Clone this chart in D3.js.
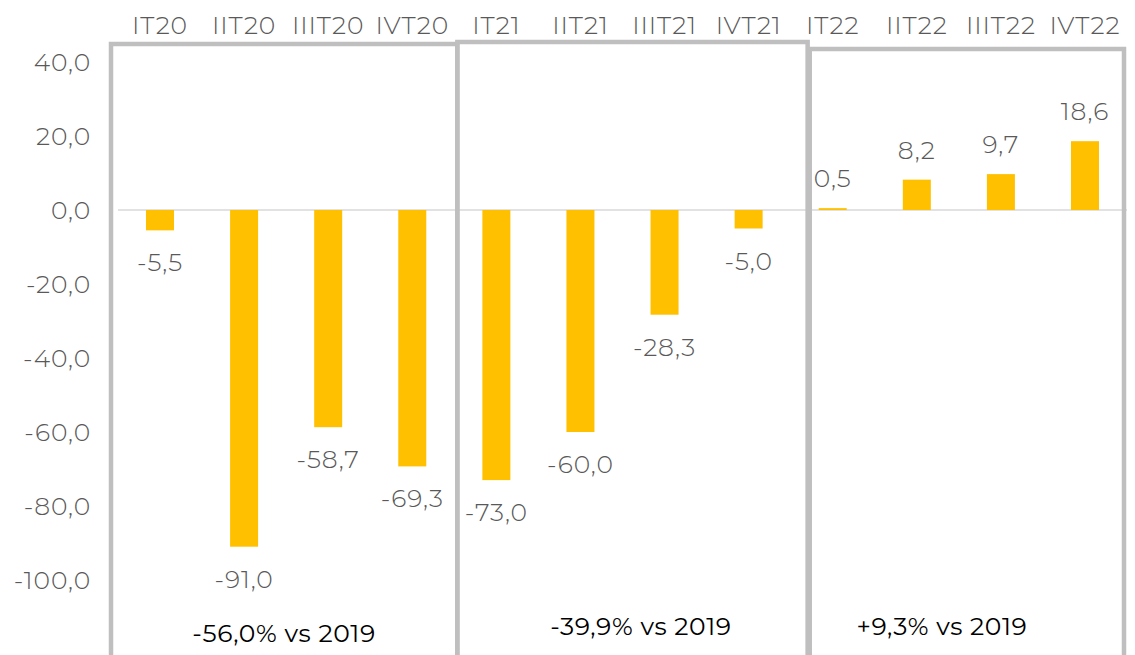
<!DOCTYPE html>
<html>
<head>
<meta charset="utf-8">
<script src="https://cdn.jsdelivr.net/npm/d3@7"></script>
<style>
  body { margin: 0; background: #fff; }
  text { font-family: "Montserrat", "Open Sans", "DejaVu Sans", sans-serif; font-weight: 300; letter-spacing: 0.9px; }
  text.note { font-weight: 400; letter-spacing: 0.6px; }
</style>
</head>
<body>
<div id="chart-area"></div>
<script>
// quarterly change vs 2019 (%)
var quarters = ["IT20", "IIT20", "IIIT20", "IVT20", "IT21", "IIT21", "IIIT21", "IVT21", "IT22", "IIT22", "IIIT22", "IVT22"];
var values = [-5.5, -91.0, -58.7, -69.3, -73.0, -60.0, -28.3, -5.0, 0.5, 8.2, 9.7, 18.6];
var yTicks = [40, 20, 0, -20, -40, -60, -80, -100];

var groupNotes = ["-56,0% vs 2019", "-39,9% vs 2019", "+9,3% vs 2019"];
var groupFirst = ["IT20", "IT21", "IT22"];
var groupLast = ["IVT20", "IVT21", "IVT22"];

var W = 1135, H = 655;

var svg = d3.select("#chart-area").append("svg")
    .attr("width", W)
    .attr("height", H);

var x = d3.scaleBand()
    .domain(quarters)
    .range([118, 1127])
    .paddingInner(0.667)
    .paddingOuter(0.333);

var y = d3.scaleLinear()
    .domain([-100, 40])
    .range([580, 62]);

var fmt = function(v) { return d3.format(".1f")(v).replace(".", ",").replace("−", "-"); };

// y axis labels (no line, no ticks)
var yAxisCall = d3.axisLeft(y)
    .tickValues(yTicks)
    .tickSize(0)
    .tickPadding(0)
    .tickFormat(fmt);

var yAxis = svg.append("g")
    .attr("transform", "translate(91,0)")
    .call(yAxisCall);
yAxis.select(".domain").remove();
yAxis.selectAll("text")
    .attr("font-size", "25px")
    .attr("fill", "#595959")
    .attr("dy", "0.35em");

// category labels on top
var xAxisCall = d3.axisTop(x).tickSize(0).tickPadding(0);
var xAxis = svg.append("g")
    .attr("transform", "translate(0,34)")
    .call(xAxisCall);
xAxis.select(".domain").remove();
xAxis.selectAll("text")
    .attr("font-size", "25px")
    .attr("fill", "#595959");

// zero line
svg.append("line")
    .attr("x1", 118).attr("x2", 1127)
    .attr("y1", y(0)).attr("y2", y(0))
    .attr("stroke", "#d9d9d9")
    .attr("stroke-width", 1.5);

// group boxes (open at the bottom)
var step = x.step();
var boxTops = [44, 42, 49];
var boxLeft = [
    x(groupFirst[0]) - x.paddingOuter() * step - 7,
    x(groupFirst[1]) - x.paddingOuter() * step + 3,
    x(groupFirst[2]) - x.paddingOuter() * step + 19
];
var boxRight = [
    x(groupLast[0]) + x.bandwidth() + x.paddingOuter() * step + 3,
    x(groupLast[1]) + x.bandwidth() + x.paddingOuter() * step + 17,
    x(groupLast[2]) + x.bandwidth() + x.paddingOuter() * step - 3
];

groupNotes.forEach(function(note, i) {
    svg.append("path")
        .attr("d", "M" + boxLeft[i] + "," + (H + 10) +
            "V" + boxTops[i] + "H" + boxRight[i] + "V" + (H + 10))
        .attr("fill", "none")
        .attr("stroke", "#bfbfbf")
        .attr("stroke-width", 4.5);
});

// bars
svg.selectAll("rect.bar")
    .data(values)
    .enter()
    .append("rect")
    .attr("class", "bar")
    .attr("x", function(d, i) { return x(quarters[i]); })
    .attr("y", function(d) { return y(Math.max(0, d)); })
    .attr("width", x.bandwidth())
    .attr("height", function(d) { return Math.abs(y(d) - y(0)); })
    .attr("fill", "#ffc000");

// value labels
svg.selectAll("text.val")
    .data(values)
    .enter()
    .append("text")
    .attr("class", "val")
    .attr("x", function(d, i) { return x(quarters[i]) + x.bandwidth() / 2; })
    .attr("y", function(d) { return d >= 0 ? y(d) - 21 : y(d) + 41; })
    .attr("text-anchor", "middle")
    .attr("font-size", "25px")
    .attr("fill", "#595959")
    .text(fmt);

// group notes
var noteX = [284, 641, 942];
var noteY = [642, 635, 635];
groupNotes.forEach(function(note, i) {
    svg.append("text")
        .attr("class", "note")
        .attr("x", noteX[i])
        .attr("y", noteY[i])
        .attr("text-anchor", "middle")
        .attr("font-size", "25px")
        .attr("fill", "#000")
        .text(note);
});
</script>
</body>
</html>
